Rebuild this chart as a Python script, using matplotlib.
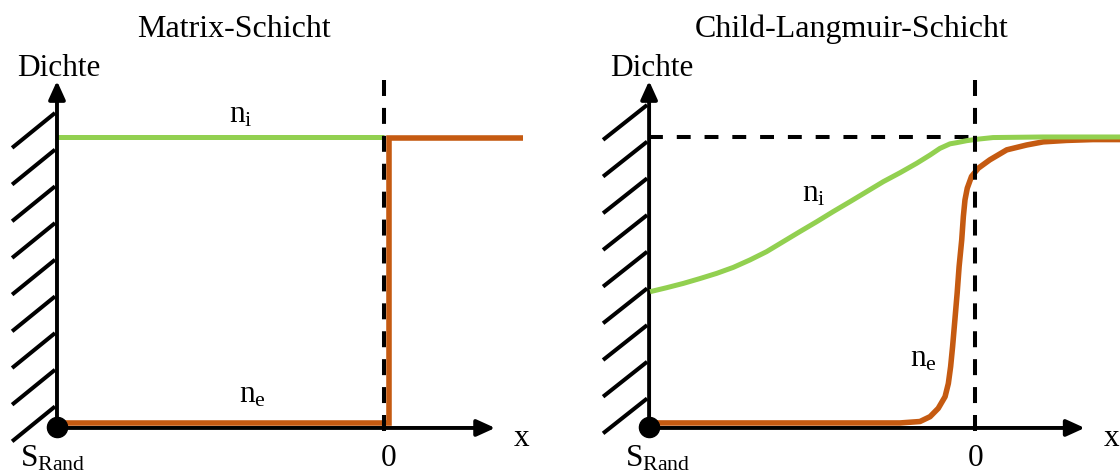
import matplotlib
matplotlib.use("Agg")
import matplotlib.pyplot as plt

plt.rcParams['font.family'] = ['Liberation Serif', 'DejaVu Serif']
plt.rcParams['lines.scale_dashes'] = False

# ---------------- data (x: 0 = sheath edge, -1 = wall; y: density / n0) -------------
titles = ["Matrix-Schicht", "Child-Langmuir-Schicht"]
y_label = "Dichte"
x_label = "x"
wall_label = r"$\mathregular{S_{Rand}}$"
edge_label = "0"

# Matrix sheath
mat_x_ni = [-1.0, 0.0]
mat_ni = [1.0, 1.0]
mat_x_ne = [-1.0, 0.013, 0.013, 0.423]
mat_ne = [0.0, 0.0, 0.997, 0.997]

# Child-Langmuir sheath
cl_x_ni = [-0.997, -0.946, -0.895, -0.844, -0.793, -0.742, -0.691, -0.640,
           -0.589, -0.538, -0.486, -0.436, -0.384, -0.333, -0.282, -0.231,
           -0.180, -0.139, -0.109, -0.078, -0.058, -0.027, 0.004, 0.054,
           0.207, 0.445]
cl_ni = [0.459, 0.473, 0.488, 0.505, 0.523, 0.544, 0.570, 0.599,
         0.634, 0.669, 0.704, 0.739, 0.774, 0.809, 0.844, 0.875,
         0.908, 0.937, 0.960, 0.976, 0.980, 0.987, 0.992, 0.998,
         1.0, 1.0]
cl_x_ne = [-0.99, -0.2925, -0.231, -0.170, -0.139, -0.114, -0.093, -0.083,
           -0.076, -0.070, -0.063, -0.056, -0.050, -0.042, -0.037, -0.032,
           -0.025, -0.012, 0.009, 0.044, 0.096, 0.157, 0.208, 0.279, 0.360, 0.445]
cl_ne = [0.0, 0.0, 0.0, 0.005, 0.022, 0.051, 0.092, 0.138,
         0.197, 0.267, 0.360, 0.454, 0.547, 0.640, 0.722, 0.780,
         0.821, 0.862, 0.891, 0.920, 0.955, 0.972, 0.983, 0.988, 0.991, 0.991]

GREEN = "#92D050"
ORANGE = "#C55A11"
FS = 22.5

fig = plt.figure(figsize=(11.2, 4.73), dpi=100)
ax1 = fig.add_axes([0.0, 0.0, 0.5, 1.0])
ax2 = fig.add_axes([0.5, 0.0, 0.5, 1.0])

ax1.set_xlim(-1.174, 0.536)
ax2.set_xlim(-1.273, 0.443)
for ax in (ax1, ax2):
    ax.set_ylim(-0.175, 1.479)
    ax.axis('off')


def draw_frame(ax, title, hatch_top0, hatch_xbot, title_x, ni_pos, ne_pos, xtip,
               label_x, dichte_x, s_x, zero_x):
    axis_y = -0.0175
    # wall hatch
    for k in range(9):
        yt = hatch_top0 - k * 0.1283
        ax.plot([hatch_xbot, -1.006], [yt - 0.122, yt], color='k', lw=2.9,
                solid_capstyle='butt', zorder=2)
    # axes arrows
    style = '-|>,head_length=0.55,head_width=0.25'
    ax.annotate('', xy=(-1.0, 1.196), xytext=(-1.0, axis_y),
                arrowprops=dict(arrowstyle=style, lw=2.8, color='k', shrinkA=0,
                                shrinkB=0, mutation_scale=20), zorder=3)
    ax.annotate('', xy=(xtip, axis_y), xytext=(-1.0, axis_y),
                arrowprops=dict(arrowstyle=style, lw=2.8, color='k', shrinkA=0,
                                shrinkB=0, mutation_scale=20), zorder=3)
    ax.plot([-1.0], [axis_y + 0.003], 'o', color='k', ms=14.5, zorder=6)
    # sheath edge
    ax.plot([0, 0], [1.2, -0.031], color='k', lw=2.9, dashes=(11.5, 8.6),
            dash_capstyle='butt', zorder=5)
    # texts
    ax.text(title_x, 1.35, title, fontsize=FS + 0.5, ha='center', va='baseline')
    ax.text(dichte_x, 1.213, y_label, fontsize=FS, ha='left', va='baseline')
    ax.text(s_x, -0.154, wall_label, fontsize=FS, ha='left', va='baseline')
    ax.text(zero_x, -0.151, edge_label, fontsize=FS, ha='center', va='baseline')
    ax.text(label_x, -0.056, x_label, fontsize=FS, ha='center', va='center')
    ax.text(ni_pos[0], ni_pos[1], r"$\mathregular{n_i}$", fontsize=FS,
            ha='left', va='baseline')
    ax.text(ne_pos[0], ne_pos[1], r"$\mathregular{n_e}$", fontsize=FS,
            ha='left', va='baseline')


# left panel
ax1.plot(mat_x_ni, mat_ni, color=GREEN, lw=3.6, solid_capstyle='butt', zorder=3)
ax1.plot(mat_x_ne, mat_ne, color=ORANGE, lw=4.0, solid_capstyle='butt',
         solid_joinstyle='miter', zorder=4)
draw_frame(ax1, titles[0], 1.084, -1.137, -0.46, (-0.475, 1.052), (-0.444, 0.07),
           0.338, 0.42, -1.122, -1.113, 0.011)

# right panel
ax2.plot([-1.0, 0.0], [1.0, 1.0], color='k', lw=2.9, dashes=(10, 10),
         dash_capstyle='butt', zorder=2)
ax2.plot(cl_x_ne, cl_ne, color=ORANGE, lw=4.0, solid_capstyle='butt',
         solid_joinstyle='round', zorder=3)
ax2.plot(cl_x_ni, cl_ni, color=GREEN, lw=3.6, solid_capstyle='butt',
         solid_joinstyle='round', zorder=4)
draw_frame(ax2, titles[1], 1.112, -1.141, -0.378, (-0.531, 0.773), (-0.201, 0.196),
           0.335, 0.418, -1.119, -1.074, 0.0)

fig.savefig("out.png", dpi=100)
